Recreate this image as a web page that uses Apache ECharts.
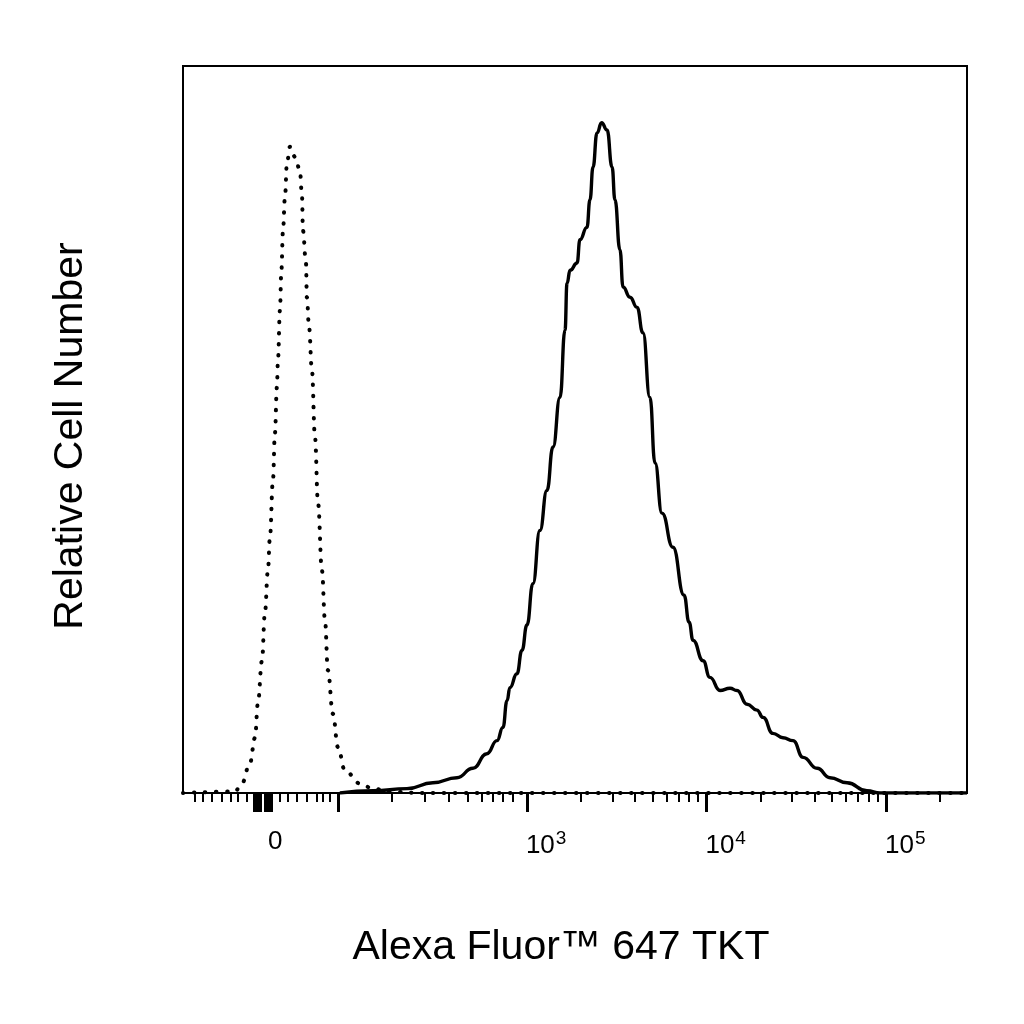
<!DOCTYPE html>
<html>
<head>
<meta charset="utf-8">
<script src="https://cdn.jsdelivr.net/npm/echarts@6/dist/echarts.min.js"></script>
<style>
  html, body { margin: 0; padding: 0; background: #fff; }
  #main { width: 1024px; height: 1024px; }
</style>
</head>
<body>
<div id="main"></div>
<script>
// x positions are in display units of the biexponential axis (3 = 10^3, 4 = 10^4 ...)
// y is relative cell number (peak of the plot area = 100)

// isotype control (dotted)
var isoX = [1.084, 1.373, 1.412, 1.457, 1.485, 1.501, 1.524, 1.540, 1.557, 1.568, 1.585, 1.596, 1.607,
            1.613, 1.624, 1.632, 1.641, 1.652, 1.663, 1.680, 1.708, 1.735, 1.747, 1.752, 1.769, 1.774,
            1.786, 1.802, 1.819, 1.836, 1.858, 1.875, 1.891, 1.919, 1.947, 1.986, 2.070, 2.142, 2.237,
            2.404, 5.451];
var isoY = [0, 0.2, 1.3, 4.1, 7.6, 12.3, 18.2, 24.7, 30.6, 35.1, 43.0, 49.5, 55.8,
            59.6, 66.4, 71.9, 77.4, 82.0, 86.7, 88.9, 87.5, 85.7, 82.0, 77.4, 72.9, 68.2,
            64.1, 58.2, 49.0, 39.9, 30.6, 23.7, 16.9, 10.9, 6.3, 3.1, 1.3, 0.6, 0.2,
            0, 0];

// TKT stained (solid)
var tktX = [1.958, 2.142, 2.331, 2.476, 2.610, 2.699, 2.777, 2.833, 2.866, 2.889, 2.905, 2.944, 2.972,
            3.000, 3.033, 3.072, 3.111, 3.145, 3.184, 3.212, 3.223, 3.240, 3.279, 3.295, 3.334, 3.351,
            3.368, 3.390, 3.416, 3.446, 3.474, 3.490, 3.518, 3.535, 3.574, 3.613, 3.646, 3.685, 3.713,
            3.752, 3.813, 3.875, 3.903, 3.925, 3.981, 4.019, 4.075, 4.131, 4.170, 4.226, 4.281, 4.315,
            4.370, 4.426, 4.482, 4.538, 4.616, 4.688, 4.783, 4.894, 4.967, 5.451];
var tktY = [0, 0.3, 0.6, 1.4, 2.1, 3.4, 5.4, 7.2, 9.0, 12.7, 14.5, 16.4, 19.6,
            23.1, 28.8, 36.1, 41.6, 47.6, 54.4, 63.7, 70.1, 71.9, 72.9, 76.1, 77.8, 81.6,
            86.1, 90.8, 92.2, 91.2, 86.1, 81.6, 74.7, 69.6, 68.2, 66.8, 63.3, 54.4, 45.4,
            38.5, 33.8, 27.2, 23.5, 21.0, 18.2, 15.9, 14.1, 14.4, 14.1, 12.2, 11.4, 10.4,
            8.2, 7.6, 7.2, 4.9, 3.4, 2.1, 1.4, 0.3, 0, 0];

// axis ticks
var minorTicks = [1.150, 1.195, 1.245, 1.301, 1.351, 1.390, 1.440,
                  1.624, 1.669, 1.719, 1.774, 1.830, 1.864, 1.903,
                  2.248, 2.432, 2.565, 2.671, 2.749, 2.811, 2.866, 2.922,
                  3.301, 3.477, 3.602, 3.699, 3.778, 3.845, 3.903, 3.954,
                  4.301, 4.477, 4.602, 4.699, 4.778, 4.845, 4.903, 4.954,
                  5.301];
var majorTicks = [1.479, 1.490, 1.501, 1.512, 1.540, 1.551, 1.562, 1.573, 1.947, 3, 4, 5];
var labelPos = [1.557, 2.994, 3.994, 4.994];
var labelText = ['0', '10{sup|3}', '10{sup|4}', '10{sup|5}'];

var xMin = 1.084, xMax = 5.451;
var font = 'Liberation Sans, Arial, sans-serif';

function zip(xs, ys) {
    return xs.map(function (x, i) { return [x, ys[i]]; });
}

var chart = echarts.init(document.getElementById('main'));

var option = {
    backgroundColor: '#fff',
    animation: false,
    grid: {
        left: 183, right: 57, top: 66, bottom: 231,
        show: true, borderColor: '#000', borderWidth: 2, backgroundColor: 'transparent'
    },
    xAxis: [{
        type: 'value', min: xMin, max: xMax, position: 'bottom',
        splitLine: { show: false },
        axisLine: { show: true, lineStyle: { color: '#000', width: 2 } },
        axisTick: { show: true, customValues: minorTicks, length: 9, lineStyle: { color: '#000', width: 2 } },
        axisLabel: {
            show: true, customValues: labelPos, align: 'left', margin: 36,
            color: '#000', fontFamily: font, fontSize: 26,
            formatter: function (v) {
                for (var i = 0; i < labelPos.length; i++) {
                    if (Math.abs(labelPos[i] - v) < 1e-6) return labelText[i];
                }
                return '';
            },
            rich: {
                sup: { fontSize: 19, fontFamily: font, color: '#000', verticalAlign: 'bottom', padding: [0, 0, 15, 1] }
            }
        },
        name: 'Alexa Fluor™ 647 TKT',
        nameLocation: 'middle', nameGap: 134,
        nameTextStyle: { color: '#000', fontFamily: font, fontSize: 41, padding: [0, 28, 0, 0] }
    }, {
        type: 'value', min: xMin, max: xMax, position: 'bottom',
        splitLine: { show: false },
        axisLine: { show: false },
        axisTick: { show: true, customValues: majorTicks, length: 19, lineStyle: { color: '#000', width: 3 } },
        axisLabel: { show: false }
    }],
    yAxis: {
        type: 'value', min: 0, max: 100,
        splitLine: { show: false },
        axisLine: { show: false },
        axisTick: { show: false },
        axisLabel: { show: false },
        name: 'Relative Cell Number',
        nameLocation: 'middle', nameGap: 92,
        nameTextStyle: { color: '#000', fontFamily: font, fontSize: 41, padding: [0, 13, 0, 0] }
    },
    series: [{
        type: 'line', name: 'isotype',
        data: zip(isoX, isoY),
        symbol: 'none', smooth: 0.4, smoothMonotone: 'x',
        lineStyle: { color: '#000', width: 4, type: [0.5, 10.5], cap: 'round' },
        z: 3
    }, {
        type: 'line', name: 'TKT',
        data: zip(tktX, tktY),
        symbol: 'none', smooth: 0.5, smoothMonotone: 'x',
        lineStyle: { color: '#000', width: 3.4, join: 'round' },
        z: 4
    }]
};

chart.setOption(option);
</script>
</body>
</html>
